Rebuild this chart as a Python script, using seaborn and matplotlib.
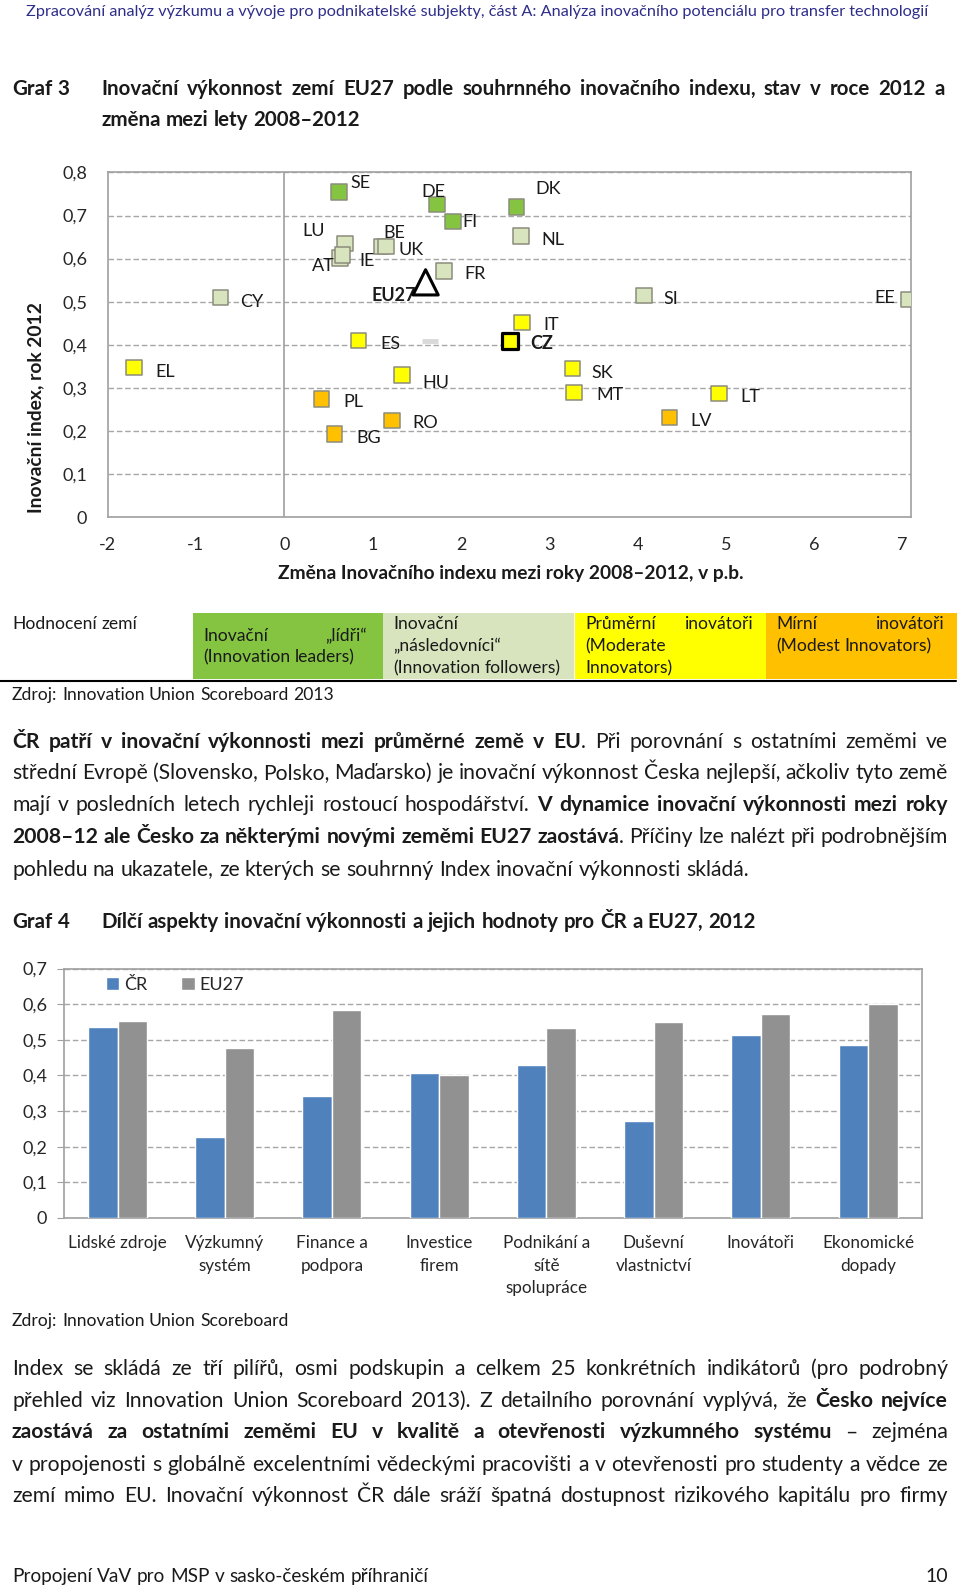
#!/usr/bin/env python3
"""
Page 10 of the report: Graf 3 (innovation index 2012 vs change 2008-2012)
and Graf 4 (sub-dimensions of innovation performance, CZ vs EU27),
with the surrounding page text.

Output: out.png (960 x 1589 px)
"""

import matplotlib
matplotlib.use("Agg")

import matplotlib.pyplot as plt
import matplotlib.ticker as mticker
from matplotlib.lines import Line2D
from matplotlib.patches import Rectangle
import numpy as np
import pandas as pd
import seaborn as sns

# ---------------------------------------------------------------------------
# Data - Graf 3
# ---------------------------------------------------------------------------

countries = ["SE", "DE", "FI", "DK", "NL", "LU", "AT", "IE", "BE", "UK",
             "FR", "CY", "SI", "EE", "IT", "CZ", "ES", "HU", "SK", "MT",
             "LT", "EL", "PL", "RO", "BG", "LV"]
change_0812 = [0.62, 1.73, 1.91, 2.63, 2.68, 0.69, 0.63, 0.66, 1.10, 1.15,
               1.81, -0.72, 4.07, 7.07, 2.69, 2.55, 0.84, 1.33, 3.26, 3.28,
               4.92, -1.70, 0.42, 1.22, 0.57, 4.36]
index_2012 = [0.755, 0.725, 0.686, 0.720, 0.652, 0.635, 0.602, 0.609, 0.628, 0.628,
              0.571, 0.510, 0.515, 0.505, 0.452, 0.408, 0.410, 0.330, 0.345, 0.290,
              0.287, 0.347, 0.275, 0.225, 0.193, 0.231]
perf_group = ["leaders"] * 4 + ["followers"] * 10 + ["moderate"] * 8 + ["modest"] * 4

eu27_change = [1.60]
eu27_index = [0.545]
ghost_change = [1.65]
ghost_index = [0.408]

# ---------------------------------------------------------------------------
# Data - Graf 4
# ---------------------------------------------------------------------------

pillars = ["Lidské zdroje", "Výzkumný systém", "Finance a podpora", "Investice firem",
           "Podnikání a sítě spolupráce", "Duševní vlastnictví", "Inovátoři",
           "Ekonomické dopady"]
pillar_labels = ["Lidské zdroje", "Výzkumný\nsystém", "Finance a\npodpora",
                 "Investice\nfirem", "Podnikání a\nsítě\nspolupráce",
                 "Duševní\nvlastnictví", "Inovátoři", "Ekonomické\ndopady"]
cz_values = [0.537, 0.226, 0.342, 0.406, 0.428, 0.272, 0.514, 0.484]
eu_values = [0.553, 0.476, 0.583, 0.402, 0.532, 0.549, 0.571, 0.601]

# ---------------------------------------------------------------------------
# Style
# ---------------------------------------------------------------------------

sns.set_style("white")
FONT = ["Lato", "DejaVu Sans"]
plt.rcParams["font.family"] = FONT

W, H = 960, 1589
INK = "#1a1a1a"
TICK = "#262626"
SPINE = "#A0A0A0"
GRIDC = "#A6A6A6"
HEADER = "#2E2E8A"
GREEN = "#84C441"
LIGHT = "#D7E4BD"
YELLOW = "#FFFF00"
ORANGE = "#FFC000"
EDGE = "#8C8C7C"
BLUE = "#4F81BD"
GRAY = "#919191"
GROUP_COLORS = {"leaders": GREEN, "followers": LIGHT, "moderate": YELLOW, "modest": ORANGE}

TITLE, BODY, SMALL = 14.8, 15.2, 12.6

# label offsets of the scatter annotations (pixels: right, down)
LABEL_OFFSET = {
    "SE": (21, -9), "DE": (-4, -13), "FI": (17, 0), "DK": (32, -18), "NL": (32, 4),
    "LU": (-32, -13), "AT": (-17, 8), "IE": (25, 6), "BE": (13, -14), "UK": (25, 3),
    "FR": (31, 3), "CY": (31, 5), "SI": (27, 4), "EE": (-24, -2), "IT": (29, 3),
    "CZ": (32, 2), "ES": (32, 3), "HU": (34, 8), "SK": (30, 4), "MT": (36, 3),
    "LT": (31, 3), "EL": (31, 4), "PL": (32, 3), "RO": (33, 3), "BG": (34, 4),
    "LV": (32, 3),
}

fig = plt.figure(figsize=(W / 100, H / 100), dpi=100)
fig.patch.set_facecolor("white")
renderer = fig.canvas.get_renderer()


def fx(x):
    return x / W


def fy(y):
    return 1 - y / H


def box(left, top, right, bottom):
    return [fx(left), fy(bottom), (right - left) / W, (bottom - top) / H]


def comma(v, _):
    return "0" if abs(v) < 1e-9 else f"{v:.1f}".replace(".", ",")


# ---------------------------------------------------------------------------
# Text helpers (justified lines built word by word)
# ---------------------------------------------------------------------------

def words_of(segments):
    words, glue = [], False
    for txt, bold in segments:
        for i, part in enumerate(txt.split(" ")):
            if part:
                if i == 0 and glue and words:
                    words[-1].append((part, bold))
                else:
                    words.append([(part, bold)])
        glue = not txt.endswith(" ")
    return words


def width_of(artist):
    return artist.get_window_extent(renderer=renderer).width


def text_line(segments, x0, y, size, x1=None, color=INK):
    words = words_of(segments)
    arts = [[fig.text(0, 0, t, fontsize=size, color=color, va="baseline",
                      fontweight="bold" if b else "normal") for t, b in w]
            for w in words]
    p1 = fig.text(0, 0, "n n", fontsize=size)
    p2 = fig.text(0, 0, "nn", fontsize=size)
    space = width_of(p1) - width_of(p2)
    p1.remove()
    p2.remove()

    def total():
        return sum(width_of(a) for w in arts for a in w)

    gap = space
    if x1 is not None and len(arts) > 1:
        gap = (x1 - x0 - total()) / (len(arts) - 1)
        if gap < 0.7 * space:
            scale = (x1 - x0 - (len(arts) - 1) * 0.8 * space) / total()
            size = size * scale
            for w in arts:
                for a in w:
                    a.set_fontsize(size)
            gap = (x1 - x0 - total()) / (len(arts) - 1)
    base = y + 0.3 * size * 100 / 72
    x = x0
    for w in arts:
        for a in w:
            a.set_position((fx(x), fy(base)))
            x += width_of(a)
        x += gap


# ---------------------------------------------------------------------------
# Page header and Graf 3 title
# ---------------------------------------------------------------------------

fig.text(fx(477), fy(12), "Zpracování analýz výzkumu a vývoje pro podnikatelské subjekty, "
         "část A: Analýza inovačního potenciálu pro transfer technologií",
         ha="center", va="center", fontsize=11.7, color=HEADER)

text_line([("Graf 3", True)], 12, 89, TITLE)
text_line([("Inovační výkonnost zemí EU27 podle souhrnného inovačního indexu, "
            "stav v roce 2012 a", True)], 101, 89, TITLE, x1=945)
text_line([("změna mezi lety 2008–2012", True)], 101, 120, TITLE)

# ---------------------------------------------------------------------------
# Graf 3 - scatter
# ---------------------------------------------------------------------------

sc = pd.DataFrame({"country": countries, "change": change_0812,
                   "index": index_2012, "group": perf_group})

ax1 = fig.add_axes(box(107.5, 172.4, 910.7, 517.3))
ax1.axvline(0, color=SPINE, lw=1.2, zorder=1)
sns.scatterplot(data=sc[sc["country"] != "CZ"], x="change", y="index", hue="group",
                palette=GROUP_COLORS, marker="s", s=125, edgecolor=EDGE,
                linewidth=1.1, legend=False, ax=ax1, zorder=3)
sns.scatterplot(data=sc[sc["country"] == "CZ"], x="change", y="index", hue="group",
                palette=GROUP_COLORS, marker="s", s=125, edgecolor="black",
                linewidth=2.3, legend=False, ax=ax1, zorder=4)
ax1.scatter(eu27_change, eu27_index, marker="^", s=330, facecolors="none",
            edgecolors="black", linewidths=2.2, zorder=4)
ax1.scatter(ghost_change, ghost_index, marker="_", s=130, color="#D9D9D9",
            linewidths=3.5, zorder=2)

for row in sc.itertuples():
    dx, dy = LABEL_OFFSET[row.country]
    ax1.annotate(row.country, (row.change, row.index), xytext=(dx, -dy),
                 textcoords="offset pixels", ha="center", va="center",
                 fontsize=13, color=INK,
                 fontweight="bold" if row.country == "CZ" else "normal")
ax1.annotate("EU27", (eu27_change[0], eu27_index[0]), xytext=(-32, -13),
             textcoords="offset pixels", ha="center", va="center",
             fontsize=13, fontweight="bold", color=INK)

ax1.set_xlim(-2, 7.09)
ax1.set_ylim(0, 0.8)
ax1.set_xticks(range(-2, 8))
ax1.set_yticks(np.arange(0, 0.81, 0.1))
ax1.xaxis.set_major_formatter(mticker.FuncFormatter(lambda v, _: f"{int(round(v))}"))
ax1.yaxis.set_major_formatter(mticker.FuncFormatter(comma))
ax1.tick_params(axis="x", length=5, color=SPINE, pad=9.5, labelsize=13, labelcolor=TICK)
ax1.tick_params(axis="y", length=0, pad=14.5, labelsize=13, labelcolor=TICK)
ax1.yaxis.grid(True, linestyle=(0, (4, 2)), color=GRIDC, lw=1.0)
ax1.xaxis.grid(False)
ax1.set_xlabel("")
ax1.set_ylabel("")
for sp in ax1.spines.values():
    sp.set_color(SPINE)
    sp.set_linewidth(1.2)

fig.text(fx(35.5), fy(408), "Inovační index, rok 2012", rotation=90, ha="center",
         va="center", fontsize=13.9, fontweight="bold", color=INK)
fig.text(fx(511), fy(574), "Změna Inovačního indexu mezi roky 2008–2012, v p.b.",
         ha="center", va="center", fontsize=13.8, fontweight="bold", color=INK)

# ---------------------------------------------------------------------------
# Country-group legend table
# ---------------------------------------------------------------------------

text_line([("Hodnocení zemí", False)], 12, 624, SMALL)
cells = [(192.7, GREEN), (383.3, LIGHT), (575.0, YELLOW), (765.7, ORANGE)]
for x0, colr in cells:
    fig.add_artist(Rectangle((fx(x0), fy(679.5)), 191 / W, 67 / H,
                             transform=fig.transFigure, color=colr, lw=0))

text_line([("Inovační „lídři“", False)], 203, 636, SMALL, x1=367)
text_line([("(Innovation leaders)", False)], 203, 657, SMALL)
text_line([("Inovační", False)], 393.5, 624, SMALL)
text_line([("„následovníci“", False)], 393.5, 646, SMALL)
text_line([("(Innovation followers)", False)], 393.5, 668, SMALL)
text_line([("Průměrní inovátoři", False)], 585, 624, SMALL, x1=752.5)
text_line([("(Moderate", False)], 585, 646, SMALL)
text_line([("Innovators)", False)], 585, 668, SMALL)
text_line([("Mírní inovátoři", False)], 776, 624, SMALL, x1=944)
text_line([("(Modest Innovators)", False)], 776, 646, SMALL)

fig.add_artist(Line2D([0, fx(956)], [fy(680.5), fy(680.5)], color="black", lw=1.5,
                      transform=fig.transFigure))
text_line([("Zdroj: Innovation Union Scoreboard 2013", False)], 12, 695, SMALL)

# ---------------------------------------------------------------------------
# Paragraph 1
# ---------------------------------------------------------------------------

X0, X1 = 12, 948
para1 = [
    [("ČR patří v inovační výkonnosti mezi průměrné země v EU", True),
     (". Při porovnání s ostatními zeměmi ve", False)],
    [("střední Evropě (Slovensko, Polsko, Maďarsko) je inovační výkonnost Česka "
      "nejlepší, ačkoliv tyto země", False)],
    [("mají v posledních letech rychleji rostoucí hospodářství. ", False),
     ("V dynamice inovační výkonnosti mezi roky", True)],
    [("2008–12 ale Česko za některými novými zeměmi EU27 zaostává", True),
     (". Příčiny lze nalézt při podrobnějším", False)],
    [("pohledu na ukazatele, ze kterých se souhrnný Index inovační výkonnosti skládá.", False)],
]
for i, (segs, y) in enumerate(zip(para1, [741.4, 772.8, 804.3, 836.7, 869.2])):
    text_line(segs, X0, y, BODY, x1=X1 if i < len(para1) - 1 else None)

# ---------------------------------------------------------------------------
# Graf 4 - grouped bars
# ---------------------------------------------------------------------------

text_line([("Graf 4", True)], 12, 922, TITLE)
text_line([("Dílčí aspekty inovační výkonnosti a jejich hodnoty pro ČR a EU27, 2012", True)],
          101, 922, TITLE)

bars = pd.DataFrame({
    "pillar": pillars * 2,
    "value": cz_values + eu_values,
    "series": ["ČR"] * len(pillars) + ["EU27"] * len(pillars),
})

ax2 = fig.add_axes(box(63.9, 968.5, 921.7, 1218))
sns.barplot(data=bars, x="pillar", y="value", hue="series",
            palette={"ČR": BLUE, "EU27": GRAY}, width=0.55, saturation=1,
            ax=ax2, zorder=3)
ax2.set_xlim(-0.5, len(pillars) - 0.5)
ax2.set_ylim(0, 0.7)
ax2.set_yticks(np.arange(0, 0.71, 0.1))
ax2.yaxis.set_major_formatter(mticker.FuncFormatter(comma))
ax2.set_xticks(range(len(pillars)))
ax2.set_xticklabels(pillar_labels)
for t in ax2.get_xticklabels():
    t.set_linespacing(1.5)
ax2.set_xticks(np.arange(-0.5, len(pillars), 1), minor=True)
ax2.tick_params(axis="x", which="major", length=0, pad=12.3, labelsize=12.3, labelcolor=TICK)
ax2.tick_params(axis="x", which="minor", length=6, color=SPINE, direction="out")
ax2.tick_params(axis="y", length=5, color=SPINE, direction="out", pad=7,
                labelsize=13, labelcolor=TICK, left=True)
ax2.yaxis.grid(True, linestyle=(0, (4, 2)), color=GRIDC, lw=1.0)
ax2.xaxis.grid(False)
ax2.set_xlabel("")
ax2.set_ylabel("")
for sp in ax2.spines.values():
    sp.set_color(SPINE)
    sp.set_linewidth(1.2)
sns.move_legend(ax2, "center left", bbox_to_anchor=(0.030, 0.934), ncol=2,
                frameon=False, title=None, fontsize=13, handlelength=0.75,
                handleheight=0.75, handletextpad=0.25, columnspacing=1.9)

text_line([("Zdroj: Innovation Union Scoreboard", False)], 12, 1320.5, SMALL)

# ---------------------------------------------------------------------------
# Paragraph 2 and footer
# ---------------------------------------------------------------------------

para2 = [
    [("Index se skládá ze tří pilířů, osmi podskupin a celkem 25 konkrétních "
      "indikátorů (pro podrobný", False)],
    [("přehled viz Innovation Union Scoreboard 2013). Z detailního porovnání "
      "vyplývá, že ", False), ("Česko nejvíce", True)],
    [("zaostává za ostatními zeměmi EU v kvalitě a otevřenosti výzkumného systému", True),
     (" – zejména", False)],
    [("v propojenosti s globálně excelentními vědeckými pracovišti a v otevřenosti "
      "pro studenty a vědce ze", False)],
    [("zemí mimo EU. Inovační výkonnost ČR dále sráží špatná dostupnost "
      "rizikového kapitálu pro firmy", False)],
]
for segs, y in zip(para2, [1368.2, 1400.6, 1432, 1464.5, 1496]):
    text_line(segs, X0, y, BODY, x1=X1)

text_line([("Propojení VaV pro MSP v sasko-českém příhraničí", False)], 12, 1576, 13.7)
fig.text(fx(948), fy(1576), "10", ha="right", va="center", fontsize=14, color=INK)

fig.savefig("out.png", dpi=100, facecolor="white")
